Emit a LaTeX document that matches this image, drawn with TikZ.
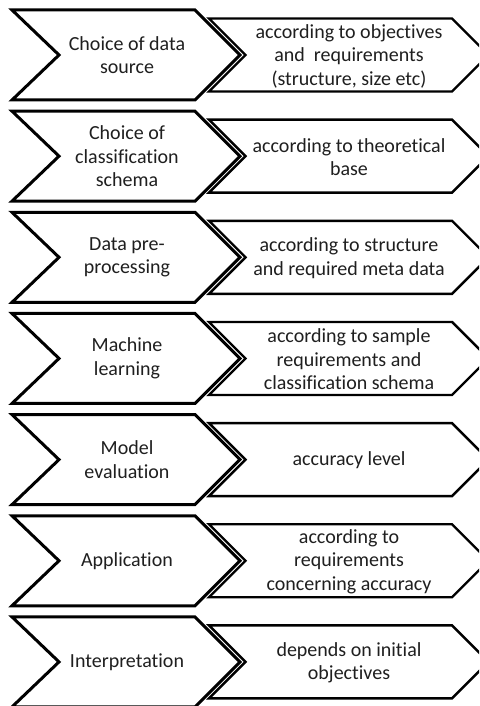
\documentclass[tikz,border=0pt]{standalone}
\usepackage{fontspec}
\setmainfont{Carlito}[Ligatures={NoCommon,NoRare,NoContextual}]
\begin{document}
\begin{tikzpicture}[x=1pt,y=-1pt,
  leftchev/.style={draw=black, line width=3pt, fill=white, line join=miter},
  rightchev/.style={draw=black, line width=2.4pt, fill=white, line join=miter},
  lbl/.style={align=center, font=\fontsize{20}{23.5}\selectfont, text=black!88, inner sep=0pt}]
\useasboundingbox (0,0) rectangle (479,706);
\clip (0,0) rectangle (479,706);
\foreach \i/\lt/\rt in {
  1/{Choice of data\\source}/{according to objectives\\and\ \ requirements\\(structure, size etc)},
  2/{Choice of\\classification\\schema}/{according to theoretical\\base},
  3/{Data pre-\\processing}/{according to structure\\and required meta data},
  4/{Machine\\learning}/{according to sample\\requirements and\\classification schema},
  5/{Model\\evaluation}/{accuracy level},
  6/{Application}/{according to\\requirements\\concerning accuracy},
  7/{Interpretation}/{depends on initial\\objectives}}{
  \pgfmathsetmacro\c{55+101.15*(\i-1)}
  \path[rightchev] (209,\c-36.5) -- (452,\c-36.5) -- (488.5,\c) -- (452,\c+36.5) -- (209,\c+36.5) -- (245.5,\c) -- cycle;
  \path[leftchev] (12,\c-45) -- (195,\c-45) -- (240,\c) -- (195,\c+45) -- (12,\c+45) -- (59,\c) -- cycle;
  \node[lbl] (L\i) at (127,\c) {\lt};
  \node[lbl] (R\i) at (349,\c+1) {\rt};
}
\end{tikzpicture}
\end{document}
